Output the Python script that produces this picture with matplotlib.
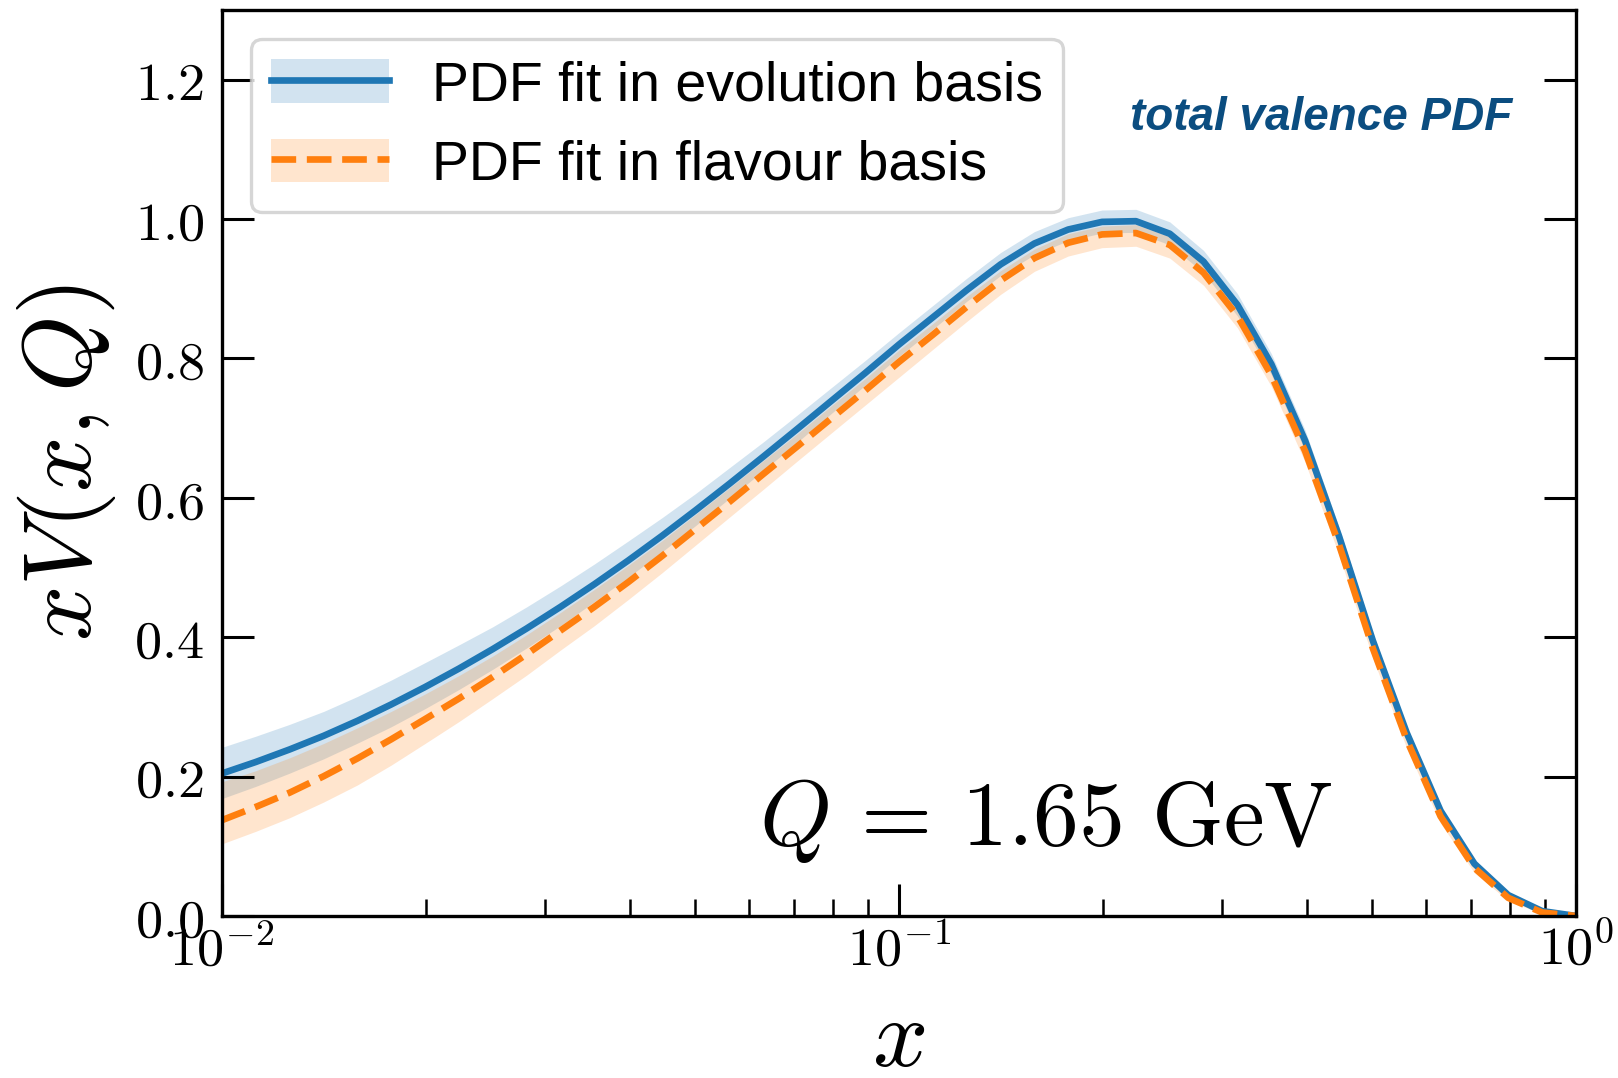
import numpy as np
import matplotlib
matplotlib.use("Agg")
import matplotlib.pyplot as plt
from matplotlib.ticker import FixedLocator, FuncFormatter, LogLocator, NullFormatter
from matplotlib.patches import Patch
from matplotlib.lines import Line2D

# Sampling points in momentum fraction x (20 per decade)
x_pts = [0.01, 0.01122, 0.01259, 0.01413, 0.01585, 0.01778, 0.01995, 0.02239, 0.02512, 0.02818,
         0.03162, 0.03548, 0.03981, 0.04467, 0.05012, 0.05623, 0.0631, 0.0708, 0.07943, 0.08913,
         0.1, 0.1122, 0.1259, 0.1413, 0.1585, 0.1778, 0.1995, 0.2239, 0.2512, 0.2818,
         0.3162, 0.3548, 0.3981, 0.4467, 0.5012, 0.5623, 0.631, 0.708, 0.7943, 0.8913,
         1.0]

# Evolution-basis fit: central value and asymmetric uncertainties
evol_central = [0.2045, 0.221, 0.239, 0.2585, 0.280, 0.3035, 0.3285, 0.355, 0.383, 0.4125,
                0.4435, 0.476, 0.510, 0.5455, 0.5825, 0.6205, 0.6595, 0.699, 0.739, 0.779,
                0.820, 0.859, 0.898, 0.935, 0.965, 0.985, 0.996, 0.997, 0.979, 0.939,
                0.877, 0.792, 0.682, 0.545, 0.395, 0.263, 0.151, 0.075, 0.030, 0.007,
                0.0]
evol_err_up = [0.0375, 0.037, 0.036, 0.035, 0.035, 0.035, 0.035, 0.034, 0.032, 0.031,
               0.030, 0.029, 0.028, 0.026, 0.024, 0.023, 0.021, 0.020, 0.019, 0.018,
               0.017, 0.017, 0.017, 0.017, 0.017, 0.017, 0.017, 0.017, 0.017, 0.016,
               0.016, 0.015, 0.015, 0.013, 0.011, 0.009, 0.007, 0.004, 0.002, 0.001,
               0.0]
evol_err_down = [0.036, 0.035, 0.034, 0.033, 0.032, 0.032, 0.031, 0.030, 0.029, 0.028,
                 0.027, 0.025, 0.024, 0.023, 0.022, 0.021, 0.020, 0.019, 0.018, 0.0175,
                 0.017, 0.017, 0.016, 0.016, 0.016, 0.016, 0.016, 0.016, 0.016, 0.016,
                 0.016, 0.015, 0.015, 0.013, 0.011, 0.009, 0.007, 0.004, 0.002, 0.001,
                 0.0]

# Flavour-basis fit: central value and asymmetric uncertainties
flav_central = [0.1375, 0.1565, 0.177, 0.2005, 0.226, 0.2535, 0.2825, 0.312, 0.343, 0.3755,
                0.4095, 0.4435, 0.479, 0.5165, 0.5555, 0.5945, 0.6345, 0.674, 0.714, 0.754,
                0.795, 0.834, 0.874, 0.912, 0.944, 0.966, 0.978, 0.980, 0.963, 0.923,
                0.861, 0.776, 0.667, 0.533, 0.384, 0.253, 0.143, 0.069, 0.026, 0.005,
                0.0]
flav_err_up = [0.055, 0.052, 0.050, 0.047, 0.044, 0.040, 0.036, 0.033, 0.030, 0.028,
               0.026, 0.025, 0.024, 0.022, 0.021, 0.020, 0.019, 0.018, 0.018, 0.017,
               0.017, 0.016, 0.015, 0.014, 0.013, 0.013, 0.012, 0.012, 0.012, 0.012,
               0.012, 0.011, 0.011, 0.010, 0.009, 0.007, 0.006, 0.004, 0.002, 0.001,
               0.0]
flav_err_down = [0.034, 0.035, 0.036, 0.037, 0.038, 0.037, 0.035, 0.033, 0.031, 0.030,
                 0.028, 0.027, 0.025, 0.024, 0.023, 0.022, 0.022, 0.021, 0.021, 0.021,
                 0.022, 0.021, 0.021, 0.020, 0.019, 0.019, 0.019, 0.019, 0.019, 0.018,
                 0.017, 0.016, 0.016, 0.015, 0.014, 0.012, 0.010, 0.007, 0.004, 0.002,
                 0.0]

legend_labels = ["PDF fit in evolution basis", "PDF fit in flavour basis"]
y_ticks = [0.0, 0.2, 0.4, 0.6, 0.8, 1.0, 1.2]
x_major = [1e-2, 1e-1, 1e0]

plt.rcParams["mathtext.fontset"] = "cm"

blue = "#1f77b4"
orange = "#ff7f0e"
lw = 4.8

x = np.array(x_pts)
ev_c = np.array(evol_central)
fl_c = np.array(flav_central)

fig = plt.figure(figsize=(16.18, 10.78), dpi=100)
ax = fig.add_axes([0.1372, 0.1503, 0.8368, 0.8404])

ax.fill_between(x, ev_c - np.array(evol_err_down), ev_c + np.array(evol_err_up),
                color=blue, alpha=0.2, lw=0)
ax.fill_between(x, fl_c - np.array(flav_err_down), fl_c + np.array(flav_err_up),
                color=orange, alpha=0.2, lw=0)
ax.plot(x, ev_c, color=blue, lw=lw, solid_joinstyle="round")
ax.plot(x, fl_c, color=orange, lw=lw, ls="--")

ax.set_xscale("log")
ax.set_xlim(1e-2, 1.0)
ax.set_ylim(0.0, 1.3)

ax.xaxis.set_major_locator(FixedLocator(x_major))
ax.xaxis.set_major_formatter(FuncFormatter(lambda v, p: rf"$10^{{{int(round(np.log10(v)))}}}$"))
ax.xaxis.set_minor_locator(LogLocator(base=10, subs=np.arange(2, 10)))
ax.xaxis.set_minor_formatter(NullFormatter())
ax.yaxis.set_major_locator(FixedLocator(y_ticks))
ax.yaxis.set_major_formatter(FuncFormatter(lambda v, p: rf"${v:.1f}$"))

for s in ax.spines.values():
    s.set_linewidth(2.4)
ax.tick_params(axis="both", which="major", direction="in", length=23, width=2.2, labelsize=39)
ax.tick_params(axis="both", which="minor", direction="in", length=12, width=1.8)
ax.tick_params(axis="y", which="both", left=True, right=True, pad=13)
ax.tick_params(axis="x", which="both", bottom=True, top=False, pad=6)

ax.set_xlabel(r"$x$", fontsize=70, labelpad=12)
ax.set_ylabel(r"$xV(x,Q)$", fontsize=70, labelpad=12)

ax.text(0.6086, 0.0784, r"$Q\,=\,1.65\ \mathrm{GeV}$", transform=ax.transAxes,
        fontsize=66, ha="center", va="baseline")
ax.text(0.9527, 0.8806, "total valence PDF", transform=ax.transAxes,
        fontsize=33, ha="right", va="center", color="#0b4d80",
        family="Liberation Sans", weight="bold", style="italic")

h1 = (Patch(facecolor=blue, alpha=0.2, lw=0), Line2D([], [], color=blue, lw=lw))
h2 = (Patch(facecolor=orange, alpha=0.2, lw=0), Line2D([], [], color=orange, lw=lw, ls="--"))
leg = ax.legend([h1, h2], legend_labels, loc="upper left", bbox_to_anchor=(0.0214, 0.968),
                borderaxespad=0, prop={"family": "Liberation Sans", "size": 40},
                handlelength=2.12, handleheight=0.83, handletextpad=0.77,
                borderpad=0.36, labelspacing=0.48, fancybox=True, framealpha=0.8)
leg.get_frame().set_edgecolor("#cccccc")
leg.get_frame().set_linewidth(2.4)

fig.savefig("out.png", dpi=100)
